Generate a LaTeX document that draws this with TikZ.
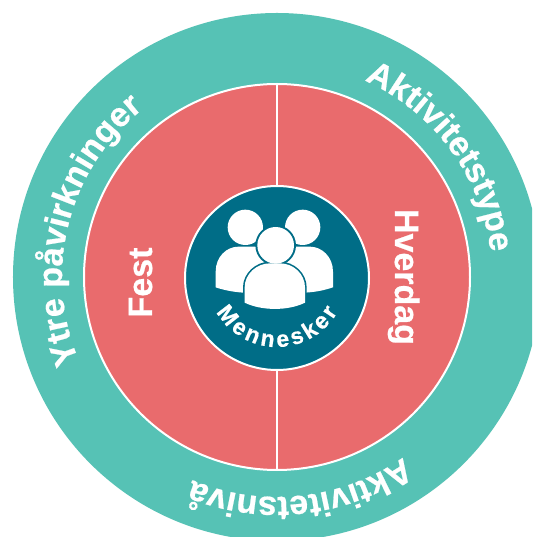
\documentclass[tikz,border=0pt]{standalone}
\usepackage{fontspec}
\setmainfont{Liberation Sans}[BoldFeatures={FakeBold=0.6}]
\usetikzlibrary{decorations.text}
\definecolor{ringteal}{HTML}{56C2B5}
\definecolor{midred}{HTML}{E96B6D}
\definecolor{coreteal}{HTML}{006D87}
\newcommand{\ringfont}{\fontsize{34}{34}\selectfont\bfseries\color{white}}
\newcommand{\corefont}{\fontsize{23}{23}\selectfont\bfseries\color{white}}
\tikzset{
  x=1pt,y=1pt,
  divider/.style={draw=white,line width=2pt},
  arctext/.style={decorate,decoration={text along path,text align={fit to path},text={#1}}},
  bigword/.style={text=white,font=\fontsize{34}{34}\selectfont\bfseries,inner sep=0pt,anchor=base}
}
\begin{document}
\begin{tikzpicture}
\clip (-277,-260) rectangle (255,277);
\fill[white] (-277,-260) rectangle (255,277);
\fill[ringteal] (0,0) circle (264);
\fill[midred,divider] (0,0) circle (193);
\draw[divider] (0,193) -- (0,-193);
\fill[coreteal,divider] (0,-1) circle (92);
% people icon, in zoomed reference coordinates
\begin{scope}[x=.33333pt,y=-.33333pt,shift={(-321,-321)}]
\fill[white] (226,172) circle (53);
\fill[white] (398,172) circle (53);
\fill[white] (137,352) -- (137,305) .. controls (137,260) and (170,230) .. (205,230) -- (420,230) .. controls (455,230) and (489,260) .. (489,305) -- (489,352) .. controls (465,360) and (440,366) .. (405,368) -- (220,368) .. controls (190,366) and (160,360) .. (137,352) -- cycle;
\fill[coreteal] (317,226) circle (61);
\fill[coreteal] (219,402) -- (219,352) .. controls (219,310) and (257,275) .. (300,275) -- (330,275) .. controls (373,275) and (410,310) .. (410,352) -- (410,402) .. controls (360,428) and (270,428) .. (219,402) -- cycle;
\fill[white] (317,226) circle (55);
\fill[white] (224,398) -- (224,352) .. controls (224,312) and (260,280) .. (300,280) -- (330,280) .. controls (370,280) and (405,312) .. (405,352) -- (405,398) .. controls (355,423) and (275,423) .. (224,398) -- cycle;
\end{scope}
\path[arctext={|\corefont|Mennesker}] (210:70) arc (210:330:70);
\path[arctext={|\ringfont|Ytre påvirkninger}] (203:215) arc (203:128.5:215);
\path[arctext={|\ringfont|Aktivitetstype}] (66:215) arc (66:7:215);
\path[arctext={|\ringfont|Aktivitetsnivå}] (-55:220) arc (-55:-112:220);
\node[bigword,rotate=90] (fest) at (-125,-5.5) {Fest};
\node[bigword,rotate=-90] (hverdag) at (118,0) {Hverdag};
\end{tikzpicture}
\end{document}
